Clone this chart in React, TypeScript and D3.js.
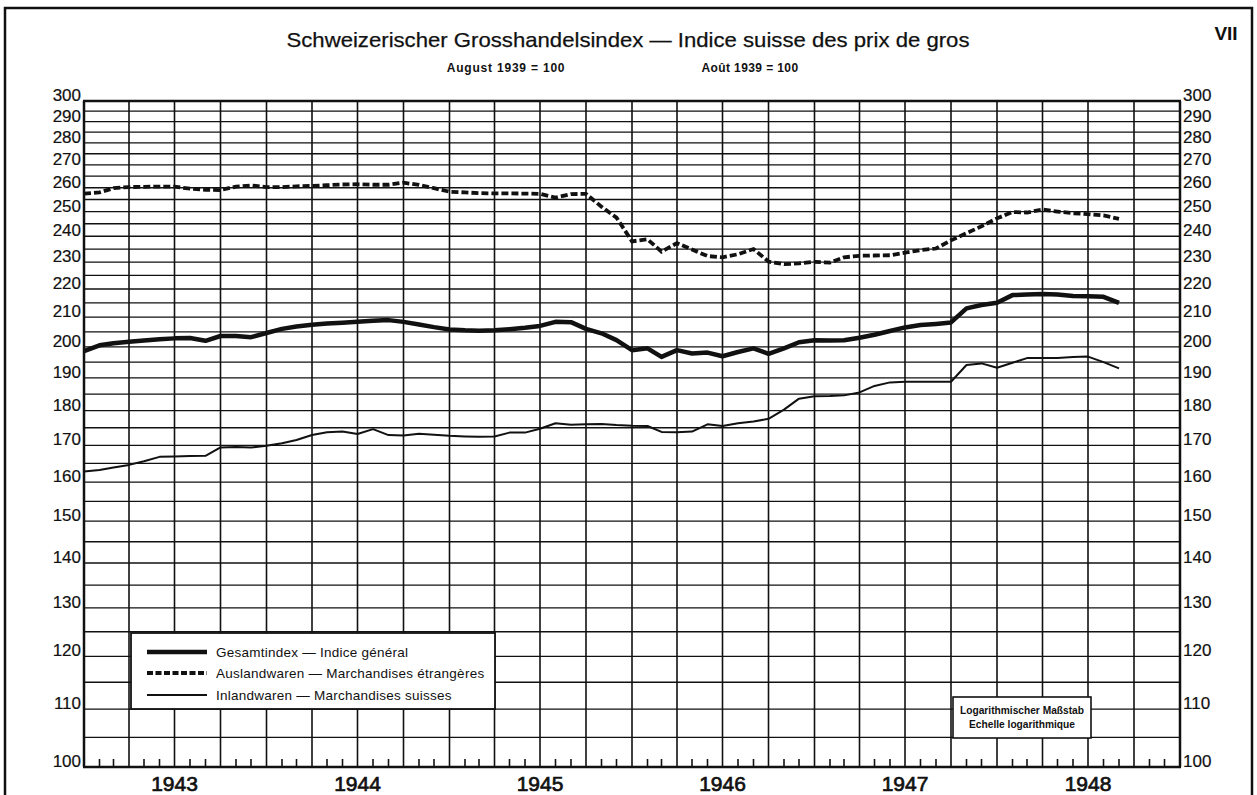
import React from "react";
import * as d3 from "d3";

// Monthly observations, Jan 1943 .. Sep 1948 (August 1939 = 100)
const months: string[] = (() => {
  const out: string[] = [];
  for (let y = 1943; y <= 1948; y++) {
    for (let m = 1; m <= 12; m++) {
      if (y === 1948 && m > 9) break;
      out.push(`${y}-${String(m).padStart(2, "0")}`);
    }
  }
  return out;
})();

const gesamtindex: number[] = [
  198.6, 200.5, 201.2, 201.7, 202.1, 202.5, 202.8, 202.9, 202.0, 203.6, 203.6, 203.2,
  204.6, 206.0, 206.8, 207.4, 207.8, 208.1, 208.4, 208.8, 209.0, 208.4, 207.5, 206.6,
  205.8, 205.5, 205.4, 205.5, 205.9, 206.4, 207.0, 208.4, 208.3, 206.0, 204.5, 202.2,
  198.9, 199.5, 196.7, 198.9, 197.8, 198.1, 196.9, 198.3, 199.5, 197.7, 199.5, 201.5,
  202.2, 202.1, 202.2, 203.0, 204.0, 205.3, 206.5, 207.3, 207.7, 208.2, 213.1, 214.3,
  215.1, 217.8, 218.0, 218.2, 218.0, 217.5, 217.4, 217.2, 215.0,
];

const auslandwaren: number[] = [
  257.5, 258.0, 259.8, 260.3, 260.4, 260.5, 260.5, 259.6, 259.1, 259.0, 260.5, 261.0,
  260.3, 260.3, 260.6, 260.8, 261.1, 261.4, 261.5, 261.3, 261.3, 262.2, 261.2, 259.8,
  258.3, 258.0, 257.7, 257.6, 257.6, 257.5, 257.4, 255.8, 257.3, 257.4, 252.0, 247.5,
  238.0, 238.8, 234.0, 237.3, 234.8, 232.3, 231.8, 233.0, 235.0, 230.2, 229.2, 229.5,
  230.1, 229.8, 231.8, 232.4, 232.5, 232.6, 233.6, 234.6, 235.2, 238.4, 241.2, 244.0,
  247.2, 249.8, 249.6, 250.8, 250.0, 249.3, 248.9, 248.4, 247.0,
];

const inlandwaren: number[] = [
  162.8, 163.2, 163.9, 164.6, 165.6, 166.8, 166.9, 167.0, 167.1, 169.4, 169.5, 169.4,
  169.9, 170.6, 171.5, 172.9, 173.7, 173.9, 173.2, 174.6, 172.9, 172.8, 173.3, 173.0,
  172.7, 172.5, 172.4, 172.5, 173.6, 173.6, 174.7, 176.3, 175.9, 176.0, 176.1, 175.8,
  175.6, 175.5, 173.8, 173.7, 173.9, 176.0, 175.5, 176.3, 176.8, 177.6, 180.3, 183.6,
  184.3, 184.4, 184.6, 185.5, 187.5, 188.6, 188.8, 188.8, 188.8, 188.8, 194.1, 194.6,
  193.2, 194.8, 196.3, 196.3, 196.3, 196.7, 196.8, 195.0, 193.0,
];

const years: number[] = [1943, 1944, 1945, 1946, 1947, 1948];
const yTickLabels: number[] = d3.range(100, 301, 10);
const yGridValues: number[] = d3.range(100, 301, 5);

const title = "Schweizerischer Grosshandelsindex — Indice suisse des prix de gros";
const subtitleDe = "August 1939 = 100";
const subtitleFr = "Août 1939 = 100";
const legendLabels: string[] = [
  "Gesamtindex — Indice général",
  "Auslandwaren — Marchandises étrangères",
  "Inlandwaren — Marchandises suisses",
];
const scaleNote: string[] = ["Logarithmischer Maßstab", "Echelle logarithmique"];

const W = 1257;
const H = 795;
const L = 84;
const R = 1180;
const T = 101;
const B = 767;
const FONT = "'Liberation Sans', Arial, Helvetica, sans-serif";
const INK = "#111";

export default function App() {
  const parse = d3.timeParse("%Y-%m");
  const dates = months.map((m) => parse(m) as Date);
  const x = d3
    .scaleTime()
    .domain([new Date(1943, 0, 1), new Date(1949, 0, 1)])
    .range([L, R]);
  const y = d3.scaleLog().domain([100, 300]).range([B, T]);

  const line = d3
    .line<number>()
    .x((_, i) => x(dates[i]))
    .y((v) => y(v))
    .curve(d3.curveLinear);

  const monthStarts = d3.timeMonth.range(new Date(1943, 0, 1), new Date(1949, 0, 2));
  const quarterStarts = monthStarts.filter((d) => d.getMonth() % 3 === 0);
  const monthTicks = monthStarts.filter((d) => d.getMonth() % 3 !== 0);

  const legendX = 131, legendY = 633, legendW = 364, legendH = 76;
  const legendRows = [652, 673, 695];
  const noteX = 953, noteY = 697, noteW = 138, noteH = 41;

  return (
    <svg
      width={W}
      height={H}
      viewBox={`0 0 ${W} ${H}`}
      style={{ position: "absolute", left: 0, top: 0, background: "#fff" }}
      fontFamily={FONT}
    >
      <rect x={0} y={0} width={W} height={H} fill="#fff" />
      {/* outer frame */}
      <rect x={5} y={8} width={1247} height={820} fill="none" stroke={INK} strokeWidth={2.5} />

      {/* titles */}
      <text x={628} y={47} textAnchor="middle" fontSize={21} fill={INK} stroke={INK} strokeWidth={0.25} textLength={683} lengthAdjust="spacingAndGlyphs">
        {title}
      </text>
      <text x={506} y={72} textAnchor="middle" fontSize={12} fontWeight="bold" fill={INK} letterSpacing={0.8}>
        {subtitleDe}
      </text>
      <text x={750} y={72} textAnchor="middle" fontSize={12} fontWeight="bold" fill={INK} letterSpacing={0.4}>
        {subtitleFr}
      </text>
      <text x={1226} y={40} textAnchor="middle" fontSize={19} fontWeight="bold" fill={INK}>
        VII
      </text>

      {/* horizontal grid */}
      {yGridValues.map((v) => (
        <line key={`h${v}`} x1={L} x2={R} y1={y(v)} y2={y(v)} stroke={INK} strokeWidth={1.3} />
      ))}
      {/* vertical grid (quarters) */}
      {quarterStarts.map((d, i) => (
        <line key={`v${i}`} x1={x(d)} x2={x(d)} y1={T} y2={B} stroke={INK} strokeWidth={1.6} />
      ))}
      {/* month ticks */}
      {monthTicks.map((d, i) => (
        <line key={`t${i}`} x1={x(d)} x2={x(d)} y1={B} y2={B - 8} stroke={INK} strokeWidth={1.6} />
      ))}
      {/* plot frame */}
      <line x1={L - 1} x2={R + 1} y1={T} y2={T} stroke={INK} strokeWidth={2.5} />
      <line x1={L - 1} x2={R + 1} y1={B} y2={B} stroke={INK} strokeWidth={2.5} />
      <line x1={L} x2={L} y1={T} y2={B} stroke={INK} strokeWidth={2.5} />
      <line x1={R} x2={R} y1={T} y2={B} stroke={INK} strokeWidth={2.5} />

      {/* y labels */}
      {yTickLabels.map((v) => (
        <g key={`yl${v}`}>
          <text x={L - 3} y={y(v)} textAnchor="end" fontSize={17} fill={INK} stroke={INK} strokeWidth={0.2}>
            {v}
          </text>
          <text x={R + 3} y={y(v)} textAnchor="start" fontSize={17} fill={INK} stroke={INK} strokeWidth={0.2}>
            {v}
          </text>
        </g>
      ))}

      {/* year labels */}
      {years.map((yr) => (
        <text key={`yr${yr}`} x={x(new Date(yr, 6, 1))} y={791} textAnchor="middle" fontSize={21} fill={INK} stroke={INK} strokeWidth={0.7}>
          {yr}
        </text>
      ))}

      {/* series */}
      <path d={line(inlandwaren) || ""} fill="none" stroke={INK} strokeWidth={2} strokeLinejoin="round" />
      <path d={line(gesamtindex) || ""} fill="none" stroke={INK} strokeWidth={4.5} strokeLinejoin="round" />
      <path d={line(auslandwaren) || ""} fill="none" stroke={INK} strokeWidth={3.8} strokeDasharray="7,3" />

      {/* legend */}
      <rect x={legendX} y={legendY} width={legendW} height={legendH} fill="#fff" stroke={INK} strokeWidth={1.8} />
      <line x1={147} x2={207} y1={legendRows[0]} y2={legendRows[0]} stroke={INK} strokeWidth={4.5} />
      <line x1={147} x2={207} y1={legendRows[1]} y2={legendRows[1]} stroke={INK} strokeWidth={3.8} strokeDasharray="6,2.5" />
      <line x1={147} x2={207} y1={legendRows[2]} y2={legendRows[2]} stroke={INK} strokeWidth={2} />
      {legendLabels.map((s, i) => (
        <text key={`lg${i}`} x={216} y={legendRows[i] + 5} fontSize={13.5} fill={INK} letterSpacing={0.25}>
          {s}
        </text>
      ))}

      {/* scale note */}
      <rect x={noteX} y={noteY} width={noteW} height={noteH} fill="#fff" stroke={INK} strokeWidth={1.6} />
      {scaleNote.map((s, i) => (
        <text key={`sn${i}`} x={noteX + noteW / 2} y={noteY + 17 + i * 14} textAnchor="middle" fontSize={10.2} fontWeight="bold" fill={INK}>
          {s}
        </text>
      ))}
    </svg>
  );
}
